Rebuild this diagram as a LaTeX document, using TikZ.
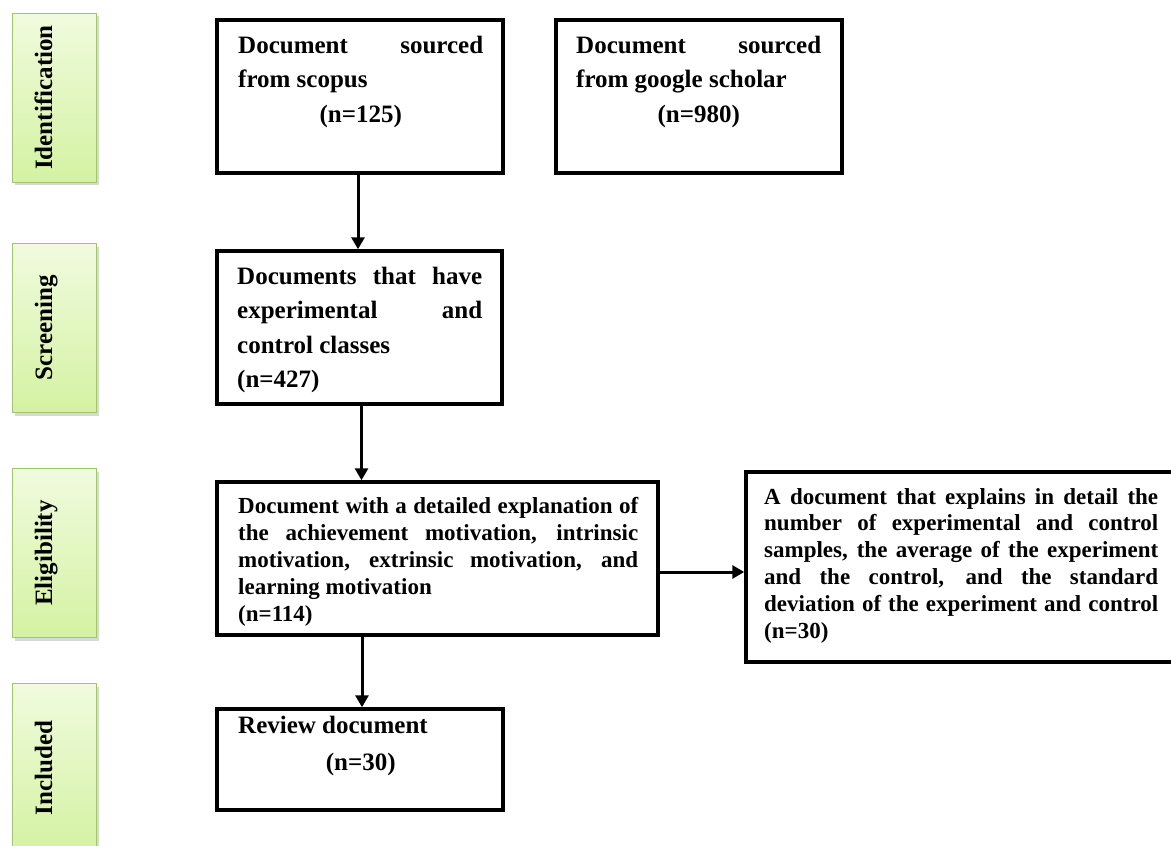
\documentclass[tikz,border=0pt]{standalone}
\usepackage{fontspec}
\setmainfont{Liberation Serif}
\usetikzlibrary{arrows.meta,shadows}
\definecolor{lblborder}{RGB}{158,200,106}
\definecolor{lbltop}{RGB}{240,251,222}
\definecolor{lblbot}{RGB}{212,242,162}
\newcommand\fontbig{\fontsize{25}{34.5}\selectfont\bfseries}
\newcommand\fontsmall{\fontsize{23}{27}\selectfont\bfseries}
\newcommand\myjust[1]{\makebox[\linewidth][s]{#1}\par}
\newcommand\myleft[1]{#1\par}
\newcommand\mycenter[1]{\makebox[\linewidth][c]{#1}\par}
\tikzset{
  box/.style={draw=black, line width=3.5pt, inner sep=0pt, rectangle, fill=white},
  sidebox/.style={draw=lblborder, line width=1pt, top color=lbltop, bottom color=lblbot,
    minimum width=84pt, minimum height=169pt, inner sep=0pt,
    drop shadow={shadow xshift=2.5pt, shadow yshift=-3pt, opacity=0.3}},
  sidelabel/.style={rotate=90, anchor=base, inner sep=0pt, font=\fontsize{25}{30}\selectfont\bfseries},
  txt/.style={anchor=base west, inner sep=0pt},
  flow/.style={line width=3pt, -{Triangle[width=13pt,length=12pt]}},
}
\begin{document}
\begin{tikzpicture}[x=1pt,y=-1pt]
\clip (0,0) rectangle (1171,846);
\fill[white] (0,0) rectangle (1171,846);
% side labels
\node[sidebox] (s1) at (54,97.5) {};
\node[sidelabel] (l1) at (52,97.5) {Identification};
\node[sidebox] (s2) at (54,328) {};
\node[sidelabel] (l2) at (52,328) {Screening};
\node[sidebox] (s3) at (54,553) {};
\node[sidelabel] (l3) at (52,553) {Eligibility};
\node[sidebox] (s4) at (54,768) {};
\node[sidelabel] (l4) at (52,768) {Included};
% boxes
\node[box, minimum width=286pt, minimum height=153pt] (b1) at (360,96.5) {};
\node[box, minimum width=286pt, minimum height=153pt] (b2) at (699,96.5) {};
\node[box, minimum width=285pt, minimum height=153pt] (b3) at (359.5,327.5) {};
\node[box, minimum width=441pt, minimum height=153pt] (b4) at (437.5,558.5) {};
\node[box, minimum width=434pt, minimum height=190pt] (b5) at (963,567) {};
\node[box, minimum width=286pt, minimum height=101pt] (b6) at (360,759.5) {};
% texts
\node[txt] (t1) at (238,53) {\parbox[t]{245pt}{\fontbig
  \myjust{Document sourced}\myleft{from scopus}\mycenter{(n=125)}}};
\node[txt] (t2) at (576,53) {\parbox[t]{245pt}{\fontbig
  \myjust{Document sourced}\myleft{from google scholar}\mycenter{(n=980)}}};
\node[txt] (t3) at (237,284) {\parbox[t]{245pt}{\fontbig
  \myjust{Documents that have}\myjust{experimental and}\myleft{control classes}\myleft{(n=427)}}};
\node[txt] (t4) at (238,513) {\parbox[t]{400pt}{\fontsmall
  \myjust{Document with a detailed explanation of}\myjust{the achievement motivation, intrinsic}\myjust{motivation, extrinsic motivation, and}\myleft{learning motivation}\myleft{(n=114)}}};
\node[txt] (t5) at (764,504) {\parbox[t]{394pt}{\fontsize{23}{26.8}\selectfont\bfseries
  \myjust{A document that explains in detail the}\myjust{number of experimental and control}\myjust{samples, the average of the experiment}\myjust{and the control, and the standard}\myjust{deviation of the experiment and control}\myleft{(n=30)}}};
\node[txt] (t6) at (238,733) {\parbox[t]{245pt}{\fontsize{25}{37}\selectfont\bfseries
  \myleft{Review document}\mycenter{(n=30)}}};
% connectors
\draw[flow] ([xshift=-2pt]b1.south) -- ([xshift=-2pt]b1.south |- b3.north);
\draw[flow] ([xshift=2pt]b3.south) -- ([xshift=2pt]b3.south |- b4.north);
\draw[flow] ([yshift=-13.5pt]b4.east) -- ([yshift=-13.5pt]b4.east -| b5.west);
\draw[flow] ([xshift=2pt]b6.north |- b4.south) -- ([xshift=2pt]b6.north);
\end{tikzpicture}
\end{document}
